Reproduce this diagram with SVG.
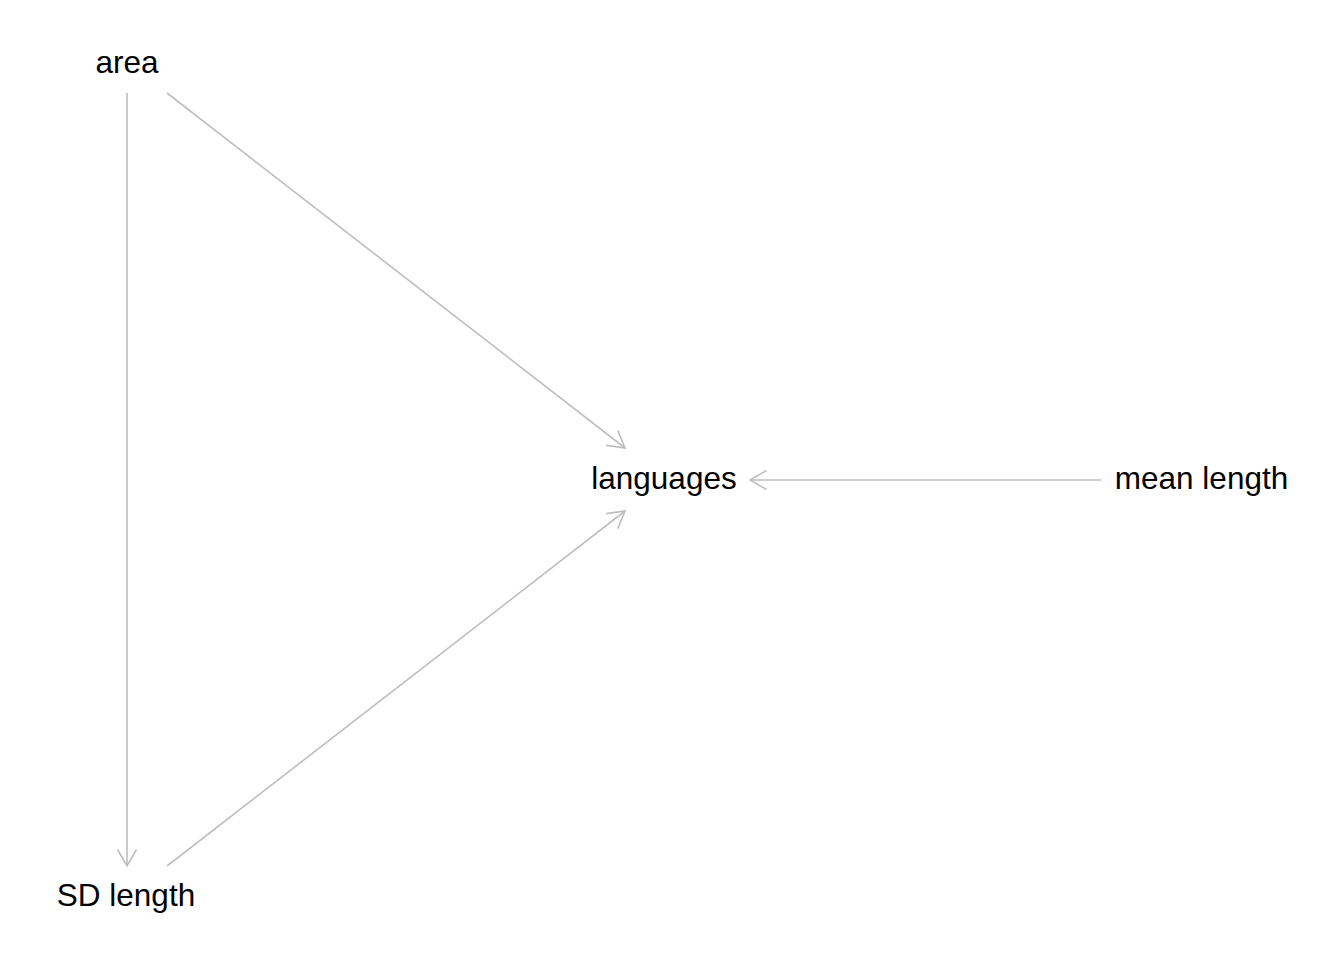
<svg xmlns="http://www.w3.org/2000/svg" width="1344" height="960" viewBox="0 0 1344 960">
<style>
.lbl{font-family:"Liberation Sans",Arial,sans-serif;font-size:31.5px;fill:#000;text-anchor:middle}
.edge{stroke:#bebebe;stroke-width:1.6;fill:none}
</style>
<defs>
<marker id="arr" markerUnits="userSpaceOnUse" viewBox="-20 -20 40 40" markerWidth="40" markerHeight="40" refX="0" refY="0" orient="auto" overflow="visible">
<path d="M-16.5,-9.5 L0,0 L-16.5,9.5" fill="none" stroke="#bebebe" stroke-width="1.6"/>
</marker>
</defs>
<rect width="1344" height="960" fill="#fff"/>
<g id="connectors">
<line class="edge" x1="127" y1="93" x2="127" y2="866" marker-end="url(#arr)"/>
<line class="edge" x1="167" y1="93" x2="625" y2="448" marker-end="url(#arr)"/>
<line class="edge" x1="167" y1="866" x2="625" y2="511" marker-end="url(#arr)"/>
<line class="edge" x1="1101" y1="480" x2="750" y2="480" marker-end="url(#arr)"/>
</g>
<g id="area"><text class="lbl" x="127" y="73">area</text></g>
<g id="sd_length"><text class="lbl" x="126" y="906">SD length</text></g>
<g id="languages"><text class="lbl" x="664" y="489">languages</text></g>
<g id="mean_length"><text class="lbl" x="1201.5" y="489">mean length</text></g>
</svg>
